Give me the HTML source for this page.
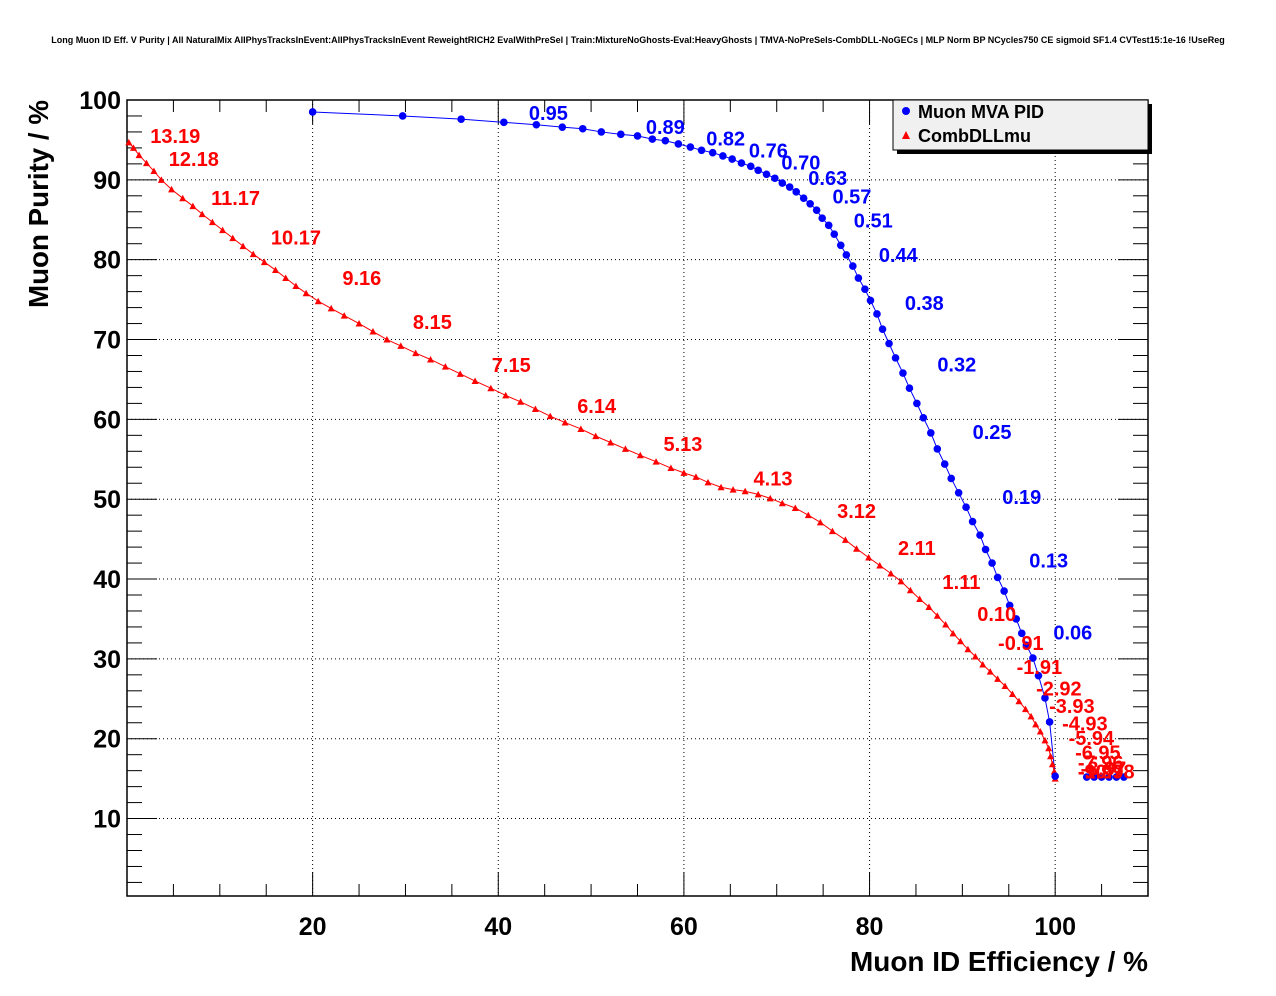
<!DOCTYPE html>
<html><head><meta charset="utf-8"><style>
body{margin:0;background:#fff;}
svg{display:block;font-family:"Liberation Sans",Arial,sans-serif;}
</style></head><body>
<svg id="chart" width="1276" height="996" xmlns="http://www.w3.org/2000/svg">
<rect x="0" y="0" width="1276" height="996" fill="#fff"/>
<text x="638" y="43" font-size="9" font-weight="bold" text-anchor="middle">Long Muon ID Eff. V Purity | All NaturalMix AllPhysTracksInEvent:AllPhysTracksInEvent ReweightRICH2 EvalWithPreSel | Train:MixtureNoGhosts-Eval:HeavyGhosts | TMVA-NoPreSels-CombDLL-NoGECs | MLP Norm BP NCycles750 CE sigmoid SF1.4 CVTest15:1e-16 !UseReg</text>
<g id="grid"></g>
<g id="axes"></g>
<g id="series"></g>
<g id="labels"></g>
<text x="1148" y="971" font-size="28" font-weight="bold" text-anchor="end" textLength="298" lengthAdjust="spacingAndGlyphs">Muon ID Efficiency / %</text>
<text transform="translate(48,100) rotate(-90)" font-size="28" font-weight="bold" text-anchor="end" textLength="208" lengthAdjust="spacingAndGlyphs">Muon Purity / %</text>
<g>
<rect x="897" y="104" width="255" height="50" fill="#000"/>
<rect x="893" y="100" width="255" height="50" fill="#f0f0f0" stroke="#000" stroke-width="1"/>
<circle cx="906" cy="111" r="4" fill="#0000ff"/>
<text x="918" y="118" font-size="18" font-weight="bold">Muon MVA PID</text>
<polygon points="906,131 910,139 902,139" fill="#ff0000"/>
<text x="918" y="142" font-size="18" font-weight="bold">CombDLLmu</text>
</g>
</svg>
<script>
const blueX=[20.0,29.7,36.0,40.6,44.1,46.9,49.1,51.1,53.2,55.0,56.6,58.0,59.4,60.7,61.9,63.1,64.2,65.2,66.2,67.2,68.0,68.9,69.8,70.6,71.4,72.1,72.9,73.6,74.3,74.9,75.6,76.2,76.9,77.5,78.2,78.8,79.5,80.1,80.8,81.4,82.1,82.8,83.6,84.3,85.1,85.8,86.6,87.3,88.1,88.8,89.6,90.4,91.1,91.9,92.5,93.2,93.8,94.5,95.1,95.8,96.4,96.9,97.6,98.2,98.9,99.4,100,103.4,104.2,105.0,105.8,106.6,107.4];
const blueY=[98.5,98.0,97.6,97.2,96.9,96.6,96.4,96.0,95.7,95.5,95.1,94.9,94.5,94.1,93.7,93.4,93.0,92.6,92.1,91.7,91.2,90.7,90.2,89.6,89.1,88.5,87.7,87.0,86.2,85.2,84.3,83.2,81.8,80.6,79.2,77.7,76.3,74.9,73.2,71.3,69.5,67.7,65.8,63.9,62.0,60.2,58.3,56.3,54.4,52.6,50.8,49.0,47.2,45.5,43.7,42.0,40.2,38.5,36.7,35.0,33.2,31.7,30.1,27.9,25.1,22.1,15.3,15.2,15.2,15.2,15.2,15.2,15.2];
const redX=[0.2,0.7,1.3,2.1,2.9,3.7,4.8,6.0,7.1,8.1,9.2,10.3,11.4,12.5,13.6,14.8,16.0,17.1,18.2,19.3,20.6,22.0,23.4,25.0,26.5,28.0,29.5,31.1,32.7,34.3,35.9,37.5,39.2,40.8,42.4,44.0,45.6,47.2,48.9,50.5,52.1,53.7,55.3,57.0,58.6,60.0,61.3,62.6,64.0,65.3,66.6,68.0,69.3,70.6,72.0,73.4,74.7,76.0,77.4,78.6,79.9,81.1,82.3,83.4,84.4,85.4,86.4,87.3,88.2,89.0,89.8,90.6,91.4,92.2,93.0,93.8,94.6,95.4,96.1,96.8,97.4,97.9,98.4,98.9,99.3,99.5,99.7,99.9,100];
const redY=[94.7,94.0,93.1,92.1,91.1,90.0,88.8,87.7,86.7,85.7,84.7,83.7,82.7,81.7,80.7,79.7,78.7,77.7,76.7,75.8,74.8,73.9,73.0,72.0,71.0,70.0,69.2,68.3,67.5,66.6,65.7,64.8,63.9,63.0,62.2,61.3,60.4,59.6,58.8,57.9,57.1,56.3,55.5,54.7,53.9,53.3,52.8,52.1,51.5,51.2,51.0,50.6,50.1,49.5,48.9,48.0,47.1,46.0,44.9,43.8,42.7,41.7,40.7,39.7,38.6,37.5,36.5,35.4,34.3,33.2,32.2,31.2,30.3,29.3,28.4,27.5,26.6,25.6,24.7,23.7,22.8,21.8,20.9,19.8,18.8,17.8,16.8,15.9,15.0];
const blueLabelText=["0.95","0.89","0.82","0.76","0.70","0.63","0.57","0.51","0.44","0.38","0.32","0.25","0.19","0.13","0.06"];
const blueLabelX=[45.4,58.0,64.5,69.1,72.6,75.5,78.1,80.4,83.1,85.9,89.4,93.2,96.4,99.3,101.9];
const blueLabelY=[98.4,96.6,95.2,93.7,92.2,90.2,87.9,84.9,80.6,74.6,66.9,58.4,50.3,42.3,33.3];
const redLabelText=["13.19","12.18","11.17","10.17","9.16","8.15","7.15","6.14","5.13","4.13","3.12","2.11","1.11","0.10","-0.91","-1.91","-2.92","-3.93","-4.93","-5.94","-6.95","-7.96","-8.97","-9.97","-10.98"];
const redLabelX=[5.2,7.2,11.7,18.2,25.3,32.9,41.4,50.6,59.9,69.6,78.6,85.1,89.9,93.7,96.3,98.3,100.4,101.8,103.2,103.9,104.6,104.9,105.2,104.9,105.5];
const redLabelY=[95.5,92.6,87.7,82.8,77.7,72.2,66.8,61.7,56.9,52.6,48.5,43.9,39.6,35.6,32.0,29.0,26.3,24.1,21.9,20.1,18.3,17.0,16.3,15.9,15.9];
const xTicks=[20,40,60,80,100];
const yTicks=[10,20,30,40,50,60,70,80,90,100];

const L=127,R=1148,T=100,B=896,XMAX=110,YMIN=0.3,YMAX=100;
function sx(v){return L+(v/XMAX)*(R-L);}
function sy(v){return B-(v-YMIN)/(YMAX-YMIN)*(B-T);}
const NS="http://www.w3.org/2000/svg";
function mk(tag,parent,attrs){const e=document.createElementNS(NS,tag);for(const k in attrs)e.setAttribute(k,attrs[k]);parent.appendChild(e);return e;}
const grid=document.getElementById('grid'),axes=document.getElementById('axes'),series=document.getElementById('series'),labels=document.getElementById('labels');

xTicks.forEach(v=>{
  const g=mk('line',grid,{x1:sx(v),x2:sx(v),y1:T,y2:B,stroke:'#000','stroke-width':1,'stroke-dasharray':'1,3'});
  
  
  const t=mk('text',axes,{x:sx(v),y:935,'font-size':25,'font-weight':'bold','text-anchor':'middle'});
  t.textContent=v;
  
  
});
yTicks.forEach(v=>{
  if(v<100){
  const g=mk('line',grid,{x1:L,x2:R,y1:sy(v),y2:sy(v),stroke:'#000','stroke-width':1,'stroke-dasharray':'1,3'});
  
  }
  const t=mk('text',axes,{x:121,y:sy(v)+9,'font-size':25,'font-weight':'bold','text-anchor':'end'});
  t.textContent=v;
  
  
});
for(let v=0;v<=XMAX;v+=5){
  const len=(v%20===0)?24:12;
  const a=mk('line',axes,{x1:sx(v),x2:sx(v),y1:B,y2:B-len,stroke:'#000','stroke-width':1});
  
  
  const b=mk('line',axes,{x1:sx(v),x2:sx(v),y1:T,y2:T+len,stroke:'#000','stroke-width':1});
  
  
}
for(let v=2;v<=100;v+=2){
  const len=(v%10===0)?30:15;
  const a=mk('line',axes,{x1:L,x2:L+len,y1:sy(v),y2:sy(v),stroke:'#000','stroke-width':1});
  
  
  const b=mk('line',axes,{x1:R,x2:R-len,y1:sy(v),y2:sy(v),stroke:'#000','stroke-width':1});
  
  
}
const frame=mk('rect',axes,{x:L,y:T,width:R-L,height:B-T,fill:'none',stroke:'#000','stroke-width':1.5});



function line(xs,ys,color,name){
  const p=mk('polyline',series,{points:xs.map((x,i)=>sx(x)+','+sy(ys[i])).join(' '),fill:'none',stroke:color,'stroke-width':1});
  
  
}
line(blueX.slice(0,67),blueY.slice(0,67),'#0000ff','mva-line');
line(redX,redY,'#ff0000','dll-line');
redX.forEach((x,i)=>{
  const cx=sx(x),cy=sy(redY[i]);
  const m=mk('polygon',series,{points:`${cx},${cy-3.5} ${cx+3.5},${cy+3} ${cx-3.5},${cy+3}`,fill:'#ff0000'});
  
  
});
blueX.forEach((x,i)=>{
  const m=mk('circle',series,{cx:sx(x),cy:sy(blueY[i]),r:3.8,fill:'#0000ff'});
  
  
});
blueLabelText.forEach((s,i)=>{
  const t=mk('text',labels,{x:sx(blueLabelX[i]),y:sy(blueLabelY[i])+7,'font-size':20,'font-weight':'bold','text-anchor':'middle',fill:'#0000ff'});
  t.textContent=s;
  
  
});
redLabelText.forEach((s,i)=>{
  const t=mk('text',labels,{x:sx(redLabelX[i]),y:sy(redLabelY[i])+7,'font-size':20,'font-weight':'bold','text-anchor':'middle',fill:'#ff0000'});
  t.textContent=s;
  
  
});
</script>
</body></html>
